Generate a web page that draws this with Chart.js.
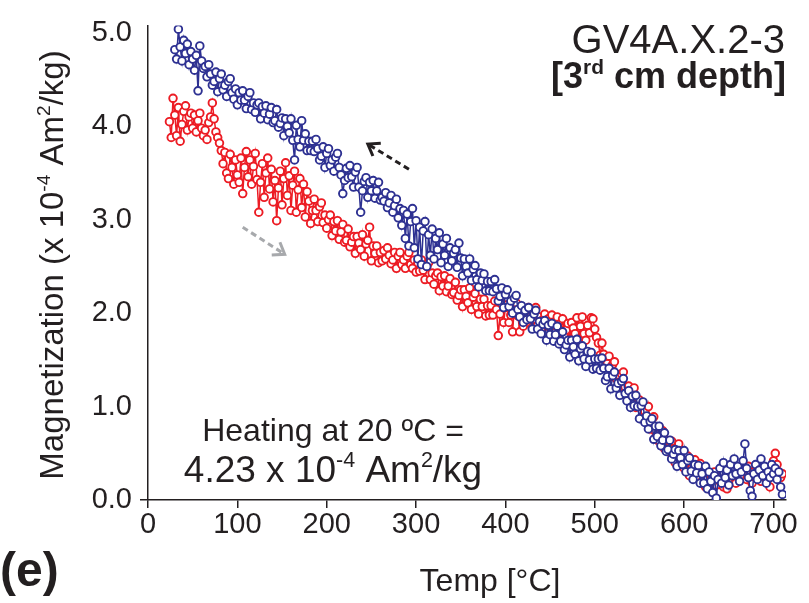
<!DOCTYPE html>
<html><head><meta charset="utf-8">
<script src="https://cdn.jsdelivr.net/npm/chart.js@4.4.0/dist/chart.umd.min.js"></script>
<style>html,body{margin:0;padding:0;background:#fff;}#wrap{width:809px;height:603px;}</style>
</head><body><div id="wrap"><canvas id="c" width="809" height="603"></canvas></div>
<script>
const temps = [
24,26,28,30,32,34,36,38,40,42,44,46,48,50,52,54,56,58,60,62,
64,66,68,70,72,74,76,78,80,82,84,86,88,90,92,94,96,98,100,102,
104,106,108,110,112,114,116,118,120,122,124,126,128,130,132,134,136,138,140,142,
144,146,148,150,152,154,156,158,160,162,164,166,168,170,172,174,176,178,180,182,
184,186,188,190,192,194,196,198,200,202,204,206,208,210,212,214,216,218,220,222,
224,226,228,230,232,234,236,238,240,242,244,246,248,250,252,254,256,258,260,262,
264,266,268,270,272,274,276,278,280,282,284,286,288,290,292,294,296,298,300,302,
304,306,308,310,312,314,316,318,320,322,324,326,328,330,332,334,336,338,340,342,
344,346,348,350,352,354,356,358,360,362,364,366,368,370,372,374,376,378,380,382,
384,386,388,390,392,394,396,398,400,402,404,406,408,410,412,414,416,418,420,422,
424,426,428,430,432,434,436,438,440,442,444,446,448,450,452,454,456,458,460,462,
464,466,468,470,472,474,476,478,480,482,484,486,488,490,492,494,496,498,500,502,
504,506,508,510,512,514,516,518,520,522,524,526,528,530,532,534,536,538,540,542,
544,546,548,550,552,554,556,558,560,562,564,566,568,570,572,574,576,578,580,582,
584,586,588,590,592,594,596,598,600,602,604,606,608,610,612,614,616,618,620,622,
624,626,628,630,632,634,636,638,640,642,644,646,648,650,652,654,656,658,660,662,
664,666,668,670,672,674,676,678,680,682,684,686,688,690,692,694,696,698,700,702,
704,706,708,710];

const heating = [
4.05,3.88,4.30,4.12,3.90,4.20,3.84,4.02,4.16,4.22,3.96,4.10,4.14,3.98,4.12,3.94,4.06,4.14,3.98,3.90,
3.96,3.86,4.04,4.10,4.25,4.08,3.94,3.88,3.82,3.74,3.60,3.72,3.50,3.44,3.70,3.56,3.38,3.64,3.48,3.40,
3.66,3.28,3.56,3.73,3.46,3.64,3.38,3.57,3.71,3.43,3.08,3.40,3.60,3.24,3.50,3.66,3.33,3.54,3.19,3.42,
2.99,3.34,3.52,3.16,3.44,3.61,3.26,3.47,3.10,3.37,3.52,3.08,3.32,3.44,3.13,3.38,3.03,3.30,3.20,2.96,
3.10,3.22,3.10,2.98,3.14,3.18,2.97,3.05,2.91,3.00,3.05,2.83,2.98,2.88,2.99,2.79,2.87,2.95,2.76,2.78,
2.90,2.71,2.76,2.82,2.64,2.82,2.75,2.68,2.84,2.61,2.74,2.78,2.92,2.56,2.72,2.64,2.72,2.54,2.65,2.56,
2.67,2.58,2.70,2.62,2.53,2.57,2.65,2.48,2.61,2.65,2.52,2.57,2.48,2.61,2.65,2.52,2.48,2.57,2.44,2.54,
2.45,2.57,2.46,2.36,2.50,2.54,2.36,2.43,2.31,2.40,2.43,2.24,2.39,2.29,2.40,2.23,2.29,2.37,2.20,2.22,
2.33,2.14,2.19,2.25,2.07,2.25,2.18,2.11,2.27,2.04,2.17,2.21,2.07,1.99,2.15,2.07,2.15,1.97,2.08,1.98,
2.08,1.98,2.13,2.04,1.76,1.99,2.10,1.90,2.06,2.09,1.90,1.98,1.80,2.06,2.11,1.97,1.80,2.04,1.86,1.99,
1.93,2.06,1.96,1.85,2.01,2.06,1.87,1.96,1.83,1.93,1.99,1.78,1.94,1.85,1.98,1.79,1.87,1.96,1.79,1.82,
1.94,1.76,1.82,1.89,1.72,1.90,1.84,1.78,1.95,1.72,1.86,1.96,1.78,1.71,1.87,1.79,1.95,1.94,1.83,1.74,
1.68,1.55,1.68,1.56,1.43,1.46,1.54,1.32,1.45,1.48,1.30,1.34,1.21,1.35,1.37,1.21,1.12,1.22,1.04,1.15,
1.20,0.99,1.03,1.07,0.87,1.03,0.95,0.86,1.00,0.76,0.87,0.89,0.73,0.64,0.78,0.68,0.74,0.55,0.64,0.52,
0.51,0.63,0.52,0.40,0.55,0.60,0.39,0.47,0.34,0.43,0.47,0.26,0.41,0.31,0.43,0.23,0.30,0.39,0.20,0.23,
0.14,0.22,0.12,0.26,0.18,0.30,0.16,0.24,0.20,0.30,0.14,0.22,0.12,0.28,0.20,0.32,0.24,0.18,0.28,0.22,
0.34,0.26,0.30,0.22,0.36,0.28,0.18,0.30,0.24,0.36,0.28,0.20,0.32,0.26,0.22,0.34,0.14,0.30,0.42,0.50,
0.38,0.30,0.24,0.28];

const cooling = [
null,null,null,4.82,4.72,5.04,4.85,4.70,4.92,4.78,4.88,4.66,4.80,4.72,4.60,4.76,4.38,4.86,4.70,4.62,
4.64,4.53,4.66,4.56,4.44,4.48,4.58,4.37,4.51,4.56,4.39,4.44,4.32,4.48,4.51,4.36,4.29,4.40,4.23,4.36,
4.28,4.38,4.28,4.19,4.32,4.36,4.18,4.25,4.15,4.23,4.25,4.08,4.21,4.14,4.22,4.07,4.13,4.20,4.04,4.06,
4.18,3.99,4.03,4.09,3.90,4.08,4.00,3.93,4.08,3.85,3.64,4.01,3.86,3.78,4.06,3.85,3.92,3.74,3.84,3.74,
3.84,3.73,3.86,3.76,3.64,3.68,3.78,3.56,3.71,3.76,3.58,3.64,3.52,3.67,3.71,3.56,3.48,3.28,3.42,3.55,
3.45,3.58,3.46,3.35,3.51,3.56,3.35,3.08,3.31,3.41,3.45,3.24,3.40,3.31,3.42,3.23,3.31,3.40,3.21,3.24,
3.20,3.29,3.13,3.18,3.26,3.08,3.15,3.22,3.02,3.12,2.94,3.10,2.80,3.06,2.72,2.98,3.12,2.70,2.99,2.58,
2.92,2.52,2.88,2.98,2.50,2.84,2.62,2.90,2.58,2.80,2.68,2.86,2.54,2.74,2.62,2.80,2.50,2.70,2.56,2.64,
2.68,2.49,2.75,2.59,2.40,2.58,2.50,2.43,2.58,2.35,2.47,2.51,2.36,2.28,2.43,2.35,2.42,2.24,2.34,2.24,
2.34,2.23,2.36,2.26,2.13,2.18,2.27,2.06,2.20,2.25,2.07,2.13,2.00,2.16,2.19,2.04,1.96,2.08,1.90,2.03,
1.93,2.06,1.94,1.83,1.99,2.03,1.83,1.91,1.78,1.88,1.92,1.71,1.87,1.77,1.89,1.70,1.77,1.86,1.67,1.70,
1.80,1.61,1.66,1.71,1.53,1.71,1.64,1.56,1.72,1.49,1.62,1.65,1.51,1.43,1.59,1.50,1.58,1.40,1.51,1.41,
1.51,1.39,1.52,1.41,1.28,1.32,1.41,1.19,1.33,1.37,1.20,1.25,1.12,1.27,1.30,1.14,1.06,1.17,0.99,1.11,
1.01,1.12,1.00,0.87,1.01,1.05,0.83,0.90,0.76,0.84,0.87,0.65,0.79,0.68,0.79,0.58,0.64,0.72,0.52,0.54,
0.64,0.44,0.49,0.54,0.36,0.53,0.45,0.38,0.53,0.30,0.42,0.45,0.31,0.22,0.38,0.29,0.37,0.18,0.28,0.18,
0.36,0.12,0.30,0.20,0.08,0.26,0.02,0.22,0.34,0.18,0.40,0.24,0.32,0.16,0.38,0.26,0.44,0.28,0.36,0.20,
0.30,0.42,0.60,0.34,0.24,0.10,0.04,0.28,0.38,0.22,0.32,0.44,0.26,0.36,0.18,0.30,0.24,0.38,0.28,0.34,
0.22,0.30,0.14,0.06];

const xTicks = [0,100,200,300,400,500,600,700];
const yTicks = [0,1,2,3,4,5];
const xRange = [0,714];
const yRange = [0,5.08];

const FONT = '"Liberation Sans", Arial, Helvetica, sans-serif';
const INK = '#231f20';
const RED = '#ec1c24';
const BLUE = '#2e3192';

function pts(arr){ return temps.map((t,i)=>({x:t,y:arr[i]})); }

function drawRich(ctx, segs, x, y, align, size, bold){
  const w = segs.map(s=>{
    const sz = s.sup ? size*0.58 : size;
    ctx.font = (bold?'bold ':'') + sz + 'px ' + FONT;
    return ctx.measureText(s.t).width;
  });
  const total = w.reduce((a,b)=>a+b,0);
  let cx = align==='center' ? x-total/2 : (align==='right' ? x-total : x);
  ctx.textAlign='left'; ctx.textBaseline='alphabetic';
  segs.forEach((s,i)=>{
    const sz = s.sup ? size*0.58 : size;
    ctx.font = (bold?'bold ':'') + sz + 'px ' + FONT;
    ctx.fillText(s.t, cx, s.sup ? y - size*0.40 : y);
    cx += w[i];
  });
}

function arrow(ctx, x1,y1,x2,y2,color){
  ctx.save();
  ctx.strokeStyle=color; ctx.lineWidth=3;
  ctx.setLineDash([6,4]);
  ctx.beginPath(); ctx.moveTo(x1,y1); ctx.lineTo(x2,y2); ctx.stroke();
  ctx.setLineDash([]);
  const a = Math.atan2(y2-y1,x2-x1), L=13, sp=0.62;
  ctx.beginPath();
  ctx.moveTo(x2 - L*Math.cos(a-sp), y2 - L*Math.sin(a-sp));
  ctx.lineTo(x2,y2);
  ctx.lineTo(x2 - L*Math.cos(a+sp), y2 - L*Math.sin(a+sp));
  ctx.stroke();
  ctx.restore();
}

const annot = {
  id:'annot',
  afterDraw(chart){
    const ctx = chart.ctx, xs = chart.scales.x, ys = chart.scales.y;
    ctx.save();
    ctx.fillStyle=INK;
    ctx.save();
    ctx.translate(63, 265); ctx.rotate(-Math.PI/2);
    drawRich(ctx,[{t:'Magnetization (x 10'},{t:'-4',sup:true},{t:' Am'},{t:'2',sup:true},{t:'/kg)'}],0,0,'center',33,false);
    ctx.restore();
    drawRich(ctx,[{t:'Temp [°C]'}],490,591,'center',32,false);
    drawRich(ctx,[{t:'(e)'}],0,586,'left',48,true);
    drawRich(ctx,[{t:'GV4A.X.2-3'}],785,53,'right',40,false);
    drawRich(ctx,[{t:'['},{t:'3'},{t:'rd',sup:true},{t:' cm depth]'}],786,88,'right',36,true);
    drawRich(ctx,[{t:'Heating at 20 ºC ='}],333,441,'center',32,false);
    drawRich(ctx,[{t:'4.23 x 10'},{t:'-4',sup:true},{t:' Am'},{t:'2',sup:true},{t:'/kg'}],333,482,'center',37,false);
    arrow(ctx, xs.getPixelForValue(292), ys.getPixelForValue(3.54), xs.getPixelForValue(246), ys.getPixelForValue(3.81), INK);
    arrow(ctx, xs.getPixelForValue(106), ys.getPixelForValue(2.92), xs.getPixelForValue(153), ys.getPixelForValue(2.63), '#a7a9ac');
    ctx.restore();
  }
};

new Chart(document.getElementById('c'), {
  type:'line',
  data:{datasets:[
    {label:'Heating', data:pts(heating), borderColor:RED, pointBorderColor:RED, pointBackgroundColor:'#fff',
     borderWidth:1.5, pointRadius:3.8, pointBorderWidth:1.9, tension:0, order:2, spanGaps:false},
    {label:'Cooling', data:pts(cooling), borderColor:BLUE, pointBorderColor:BLUE, pointBackgroundColor:'#fff',
     borderWidth:1.5, pointRadius:3.8, pointBorderWidth:1.9, tension:0, order:1, spanGaps:false}
  ]},
  options:{
    responsive:false, animation:false, devicePixelRatio:1,
    layout:{padding:{left:0,right:23,top:20,bottom:0}},
    plugins:{legend:{display:false}, tooltip:{enabled:false}},
    scales:{
      x:{type:'linear', min:xRange[0], max:xRange[1],
        afterBuildTicks(s){ s.ticks = xTicks.map(v=>({value:v})); },
        afterFit(s){ s.height = 103; },
        grid:{display:true, drawOnChartArea:false, drawTicks:true, tickLength:8, color:INK, lineWidth:1.5},
        border:{display:true, color:INK, width:1.5},
        ticks:{color:INK, font:{family:FONT, size:29}, padding:0, maxRotation:0, autoSkip:false}
      },
      y:{type:'linear', min:yRange[0], max:yRange[1],
        afterBuildTicks(s){ s.ticks = yTicks.map(v=>({value:v})); },
        afterFit(s){ s.width = 148; },
        grid:{display:true, drawOnChartArea:false, drawTicks:true, tickLength:8,
              color:(c)=> (c.tick && c.tick.value===0) ? INK : 'rgba(0,0,0,0)', lineWidth:1.5},
        border:{display:true, color:INK, width:1.5},
        ticks:{color:INK, font:{family:FONT, size:29}, padding:8, callback:(v)=>Number(v).toFixed(1)}
      }
    }
  },
  plugins:[annot]
});
</script></body></html>
